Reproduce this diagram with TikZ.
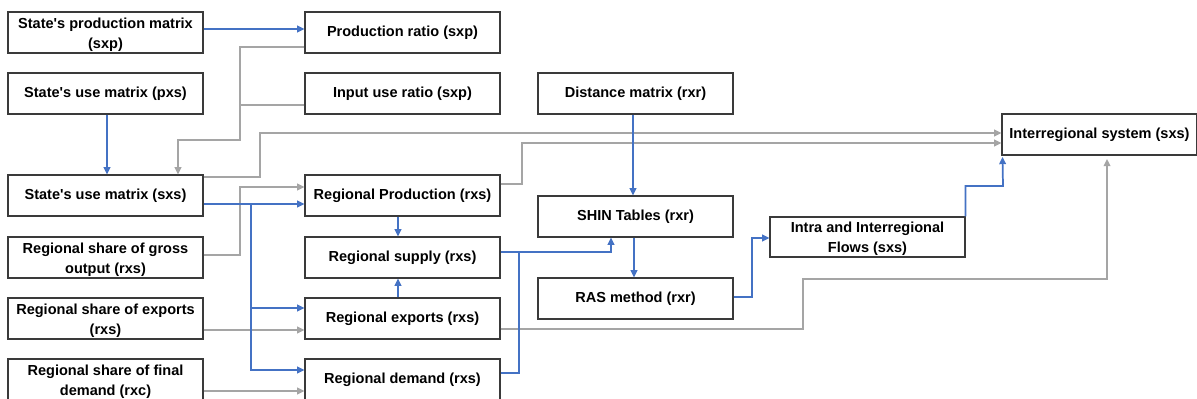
\documentclass[tikz,border=0pt]{standalone}
\usepackage{fontspec}
\setmainfont{Liberation Sans}
\usetikzlibrary{arrows.meta,calc}
\definecolor{cblue}{HTML}{4472C4}
\definecolor{cgray}{HTML}{A5A5A5}
\definecolor{cborder}{HTML}{3A3A3A}
\newcommand{\apo}{\textquotesingle}
\newcommand{\tstrut}{\rule{0pt}{11pt}}
\begin{document}
\begin{tikzpicture}[x=0.75pt,y=-0.75pt,
  box/.style={draw=cborder,line width=0.8pt,fill=white,minimum width=146.25pt,minimum height=30.75pt,
    inner sep=0pt,align=center,font=\fontsize{10.9}{15}\selectfont\bfseries},
  bl/.style={draw=cblue,line width=1.3pt},
  gr/.style={draw=cgray,line width=1.3pt},
  arr/.style={-{Triangle[length=5.5pt,width=5pt]}}]
\useasboundingbox (0,0) rectangle (1197,399);
% left column
\node[box] (A) at (105.5,32.5) {\tstrut State\apo s production matrix\\(sxp)};
\node[box] (B) at (105.5,93.5) {State\apo s use matrix (pxs)};
\node[box] (C) at (105.5,195.5) {State\apo s use matrix (sxs)};
\node[box] (D) at (105.5,257.5) {\tstrut Regional share of gross\\output (rxs)};
\node[box] (E) at (105.5,318.5) {\tstrut Regional share of exports\\(rxs)};
\node[box] (F) at (105.5,379.5) {\tstrut Regional share of final\\demand (rxc)};
% middle column
\node[box] (G) at (402.5,32.5) {Production ratio (sxp)};
\node[box] (H) at (402.5,93.5) {Input use ratio (sxp)};
\node[box] (I) at (402.5,195.5) {Regional Production (rxs)};
\node[box] (J) at (402.5,257.5) {Regional supply (rxs)};
\node[box] (K) at (402.5,318.5) {Regional exports (rxs)};
\node[box] (L) at (402.5,379.5) {Regional demand (rxs)};
% third column
\node[box] (M) at (635.5,93.5) {Distance matrix (rxr)};
\node[box] (N) at (635.5,216.5) {SHIN Tables (rxr)};
\node[box] (O) at (635.5,298.5) {RAS method (rxr)};
\node[box,minimum height=30pt] (P) at (867.5,237) {\tstrut Intra and Interregional\\Flows (sxs)};
\node[box] (Q) at (1099.5,134.5) {Interregional system (sxs)};
% gray connectors
\draw[gr,arr] ($(G.west)+(0,14.5)$) -| (240,140) -| ($(C.north)+(72.5,0)$);
\draw[gr] ($(H.west)+(0,11.5)$) -- (240,105);
\draw[gr,arr] ($(C.east)+(0,-18.5)$) -- (260,177) |- ($(Q.west)+(0,-1.5)$);
\draw[gr,arr] ($(I.east)+(0,-11.5)$) -- (522,184) |- ($(Q.west)+(0,8.5)$);
\draw[gr,arr] ($(D.east)+(0,-2.5)$) -- (240,255) |- ($(I.west)+(0,-8.5)$);
\draw[gr,arr] ($(E.east)+(0,11.5)$) -- ($(K.west)+(0,11.5)$);
\draw[gr,arr] ($(F.east)+(0,11.5)$) -- ($(L.west)+(0,11.5)$);
\draw[gr,arr,shorten >=2.5pt] ($(K.east)+(0,10.5)$) -- (803,329) |- (1107,279) -- ($(Q.south)+(7.5,0)$);
% blue connectors
\draw[bl,arr] ($(A.east)+(0,-3.5)$) -- ($(G.west)+(0,-3.5)$);
\draw[bl,arr] ($(B.south)+(1.5,0)$) -- ($(C.north)+(1.5,0)$);
\draw[bl,arr] ($(C.east)+(0,8.5)$) -- ($(I.west)+(0,8.5)$);
\coordinate (br) at (251,204);
\draw[bl,arr] (br) |- ($(K.west)+(0,-10.5)$);
\draw[bl,arr] (br) |- ($(L.west)+(0,-9.5)$);
\draw[bl,arr] ($(I.south)+(-4.5,0)$) -- ($(J.north)+(-4.5,0)$);
\draw[bl,arr] ($(K.north)+(-4.5,0)$) -- ($(J.south)+(-4.5,0)$);
\draw[bl,arr] ($(J.east)+(0,-5.5)$) -| ($(N.south)+(-24.5,0)$);
\draw[bl] ($(L.east)+(0,-6.5)$) -| (519,252);
\draw[bl,arr] ($(M.south)+(-2.5,0)$) -- ($(N.north)+(-2.5,0)$);
\draw[bl,arr] ($(N.south)+(-1.5,0)$) -- ($(O.north)+(-1.5,0)$);
\draw[bl,arr] ($(O.east)+(0,-1.5)$) -- (752,297) |- ($(P.west)+(0,1)$);
\draw[bl,arr,shorten >=1pt] (P.north east) |- (1003,186) -- ($(Q.south west)+(1,0)$);
\end{tikzpicture}
\end{document}
